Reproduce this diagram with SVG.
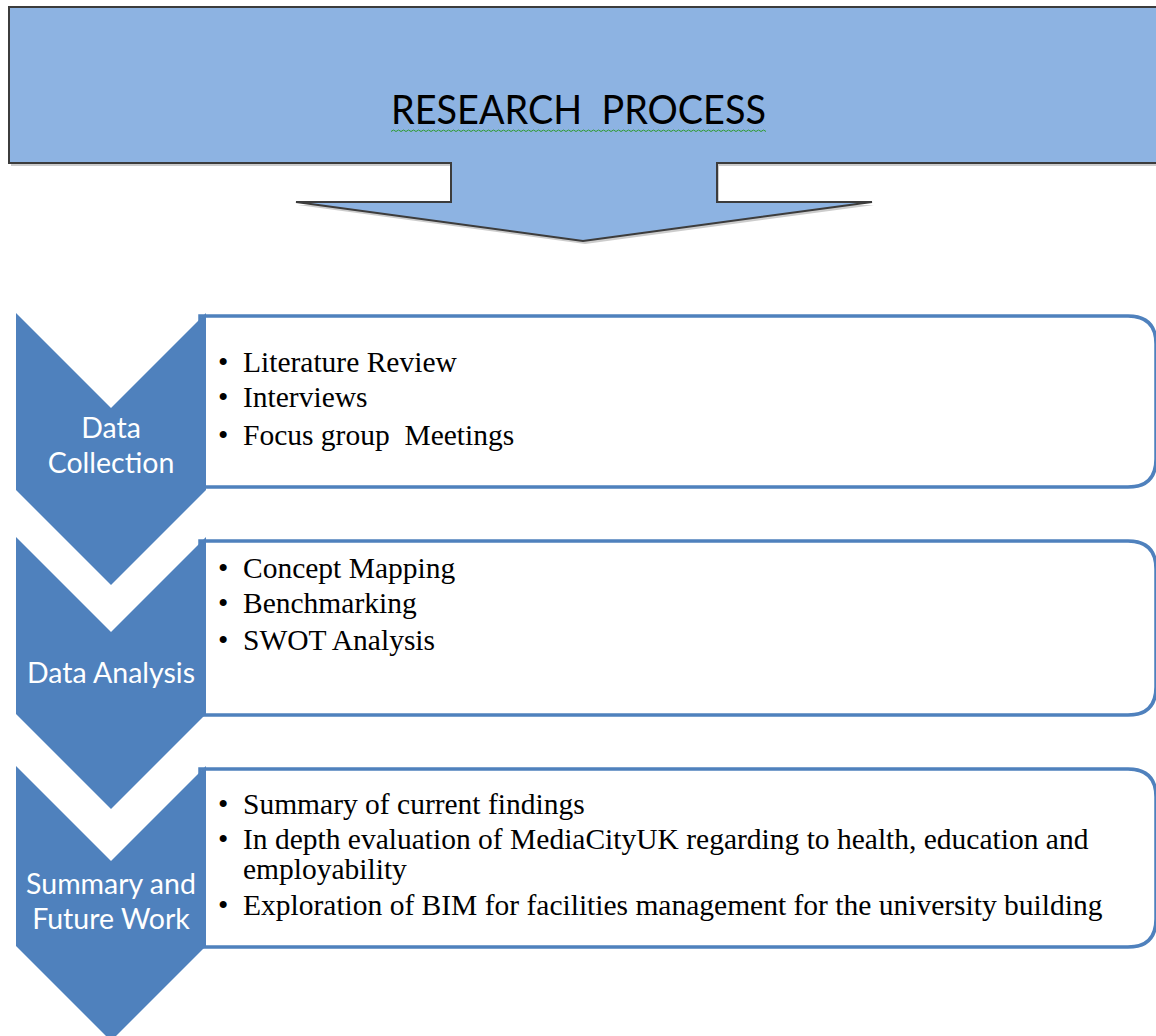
<svg xmlns="http://www.w3.org/2000/svg" width="1156" height="1036" viewBox="0 0 1156 1036">
<defs>
<style>
.chev{fill:#4F81BD;}
.box{fill:#FFFFFF;stroke:#4F81BD;stroke-width:3.5;}
.lbl{font-family:Lato,"Liberation Sans",sans-serif;font-size:28.5px;fill:#FFFFFF;text-anchor:middle;}
.item{font-family:"Liberation Serif","Times New Roman",serif;font-size:29.5px;fill:#000000;white-space:pre;}
.title{font-family:Lato,"Liberation Sans",sans-serif;font-size:40px;fill:#000000;white-space:pre;}
</style>
<clipPath id="ulclip"><rect x="391" y="126" width="375" height="10"/></clipPath>
</defs>
<rect width="1156" height="1036" fill="#FFFFFF"/>
<g id="header">
<polygon points="11,10 1162,10 1162,166 719,166 719,205 874,205 585,244 298,205 453,205 453,166 11,166" fill="#9a9a9a" opacity="0.5"/>
<polygon points="9,7 1160,7 1160,163 717,163 717,202 872,202 583,241 296,202 451,202 451,163 9,163 Z" fill="#8DB3E2" stroke="#3C3C3C" stroke-width="2"/>
<text class="title" x="391" y="124" textLength="375" lengthAdjust="spacingAndGlyphs">RESEARCH  PROCESS</text>
<path clip-path="url(#ulclip)" d="M391,131.5 l2.5,-1.5 l2.5,1.5 l2.5,-1.5 l2.5,1.5 l2.5,-1.5 l2.5,1.5 l2.5,-1.5 l2.5,1.5 l2.5,-1.5 l2.5,1.5 l2.5,-1.5 l2.5,1.5 l2.5,-1.5 l2.5,1.5 l2.5,-1.5 l2.5,1.5 l2.5,-1.5 l2.5,1.5 l2.5,-1.5 l2.5,1.5 l2.5,-1.5 l2.5,1.5 l2.5,-1.5 l2.5,1.5 l2.5,-1.5 l2.5,1.5 l2.5,-1.5 l2.5,1.5 l2.5,-1.5 l2.5,1.5 l2.5,-1.5 l2.5,1.5 l2.5,-1.5 l2.5,1.5 l2.5,-1.5 l2.5,1.5 l2.5,-1.5 l2.5,1.5 l2.5,-1.5 l2.5,1.5 l2.5,-1.5 l2.5,1.5 l2.5,-1.5 l2.5,1.5 l2.5,-1.5 l2.5,1.5 l2.5,-1.5 l2.5,1.5 l2.5,-1.5 l2.5,1.5 l2.5,-1.5 l2.5,1.5 l2.5,-1.5 l2.5,1.5 l2.5,-1.5 l2.5,1.5 l2.5,-1.5 l2.5,1.5 l2.5,-1.5 l2.5,1.5 l2.5,-1.5 l2.5,1.5 l2.5,-1.5 l2.5,1.5 l2.5,-1.5 l2.5,1.5 l2.5,-1.5 l2.5,1.5 l2.5,-1.5 l2.5,1.5 l2.5,-1.5 l2.5,1.5 l2.5,-1.5 l2.5,1.5 l2.5,-1.5 l2.5,1.5 l2.5,-1.5 l2.5,1.5 l2.5,-1.5 l2.5,1.5 l2.5,-1.5 l2.5,1.5 l2.5,-1.5 l2.5,1.5 l2.5,-1.5 l2.5,1.5 l2.5,-1.5 l2.5,1.5 l2.5,-1.5 l2.5,1.5 l2.5,-1.5 l2.5,1.5 l2.5,-1.5 l2.5,1.5 l2.5,-1.5 l2.5,1.5 l2.5,-1.5 l2.5,1.5 l2.5,-1.5 l2.5,1.5 l2.5,-1.5 l2.5,1.5 l2.5,-1.5 l2.5,1.5 l2.5,-1.5 l2.5,1.5 l2.5,-1.5 l2.5,1.5 l2.5,-1.5 l2.5,1.5 l2.5,-1.5 l2.5,1.5 l2.5,-1.5 l2.5,1.5 l2.5,-1.5 l2.5,1.5 l2.5,-1.5 l2.5,1.5 l2.5,-1.5 l2.5,1.5 l2.5,-1.5 l2.5,1.5 l2.5,-1.5 l2.5,1.5 l2.5,-1.5 l2.5,1.5 l2.5,-1.5 l2.5,1.5 l2.5,-1.5 l2.5,1.5 l2.5,-1.5 l2.5,1.5 l2.5,-1.5 l2.5,1.5 l2.5,-1.5 l2.5,1.5 l2.5,-1.5 l2.5,1.5 l2.5,-1.5 l2.5,1.5 l2.5,-1.5 l2.5,1.5 l2.5,-1.5 l2.5,1.5 l2.5,-1.5 l2.5,1.5 l2.5,-1.5 l2.5,1.5 l2.5,-1.5 l2.5,1.5 l2.5,-1.5 l2.5,1.5 l2.5,-1.5 l2.5,1.5 l2.5,-1.5 l2.5,1.5" fill="none" stroke="#2E9B2E" stroke-width="1"/>
</g>
<g id="connectors"></g>
<g id="step1">
<path class="box" d="M200,316 H1128 Q1156,316 1156,344 V459 Q1156,487 1128,487 H200 Z"/>
<polygon class="chev" points="16,313 111,408 206,313 206,490 111,585 16,490"/>
<text class="lbl" x="111" y="438">Data</text>
<text class="lbl" x="111" y="473">Collection</text>
<text class="item" x="218" y="372">•</text><text class="item" x="243" y="372">Literature Review</text>
<text class="item" x="218" y="407">•</text><text class="item" x="243" y="407">Interviews</text>
<text class="item" x="218" y="445">•</text><text class="item" x="243" y="445">Focus group  Meetings</text>
</g>
<g id="step2">
<path class="box" d="M200,541 H1128 Q1156,541 1156,569 V687 Q1156,715 1128,715 H200 Z"/>
<polygon class="chev" points="16,537 111,632 206,537 206,714 111,809 16,714"/>
<text class="lbl" x="111" y="683">Data Analysis</text>
<text class="item" x="218" y="578">•</text><text class="item" x="243" y="578">Concept Mapping</text>
<text class="item" x="218" y="613">•</text><text class="item" x="243" y="613">Benchmarking</text>
<text class="item" x="218" y="650">•</text><text class="item" x="243" y="650">SWOT Analysis</text>
</g>
<g id="step3">
<path class="box" d="M200,769 H1128 Q1156,769 1156,797 V919 Q1156,947 1128,947 H200 Z"/>
<polygon class="chev" points="16,766 111,861 206,766 206,946 111,1041 16,946"/>
<text class="lbl" x="111" y="894">Summary and</text>
<text class="lbl" x="111" y="929">Future Work</text>
<text class="item" x="218" y="814">•</text><text class="item" x="243" y="814">Summary of current findings</text>
<text class="item" x="218" y="849">•</text><text class="item" x="243" y="849">In depth evaluation of MediaCityUK regarding to health, education and</text>
<text class="item" x="243" y="879">employability</text>
<text class="item" x="218" y="915">•</text><text class="item" x="243" y="915">Exploration of BIM for facilities management for the university building</text>
</g>
</svg>
